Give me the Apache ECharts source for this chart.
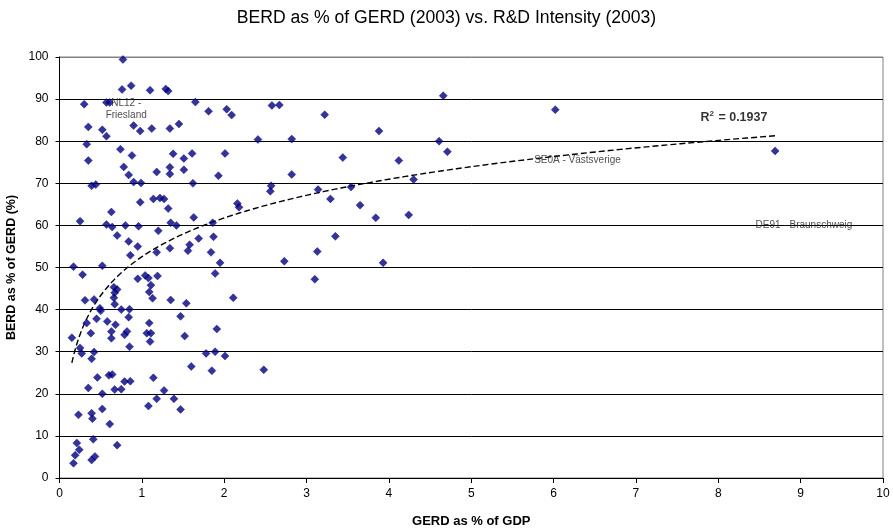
<!DOCTYPE html>
<html>
<head>
<meta charset="utf-8">
<script src="https://cdn.jsdelivr.net/npm/echarts@6/dist/echarts.min.js"></script>
<style>html,body{margin:0;padding:0;background:#fff}#c{width:893px;height:531px}</style>
</head>
<body>
<div id="c"></div>
<script>
// GERD as % of GDP (x) and BERD as % of GERD (y)
var gerdPctGdp = [
0.77,0.76,0.87,1.10,1.29,1.32,0.30,0.57,0.61,0.35,0.52,0.57,0.90,0.98,1.12,1.34,0.33,0.74,0.88,1.38,
0.35,0.78,0.84,1.18,1.34,1.34,0.39,0.44,0.90,0.99,0.98,1.14,1.22,1.27,1.32,0.63,0.25,0.57,0.64,0.80,
0.96,1.35,1.20,0.70,0.84,0.95,0.86,1.18,1.34,0.17,0.52,0.28,0.95,1.04,1.08,1.19,1.11,0.66,0.70,0.67,
1.09,1.13,0.66,1.35,0.31,0.42,0.67,0.49,0.50,0.75,0.85,0.84,0.45,0.33,0.58,0.68,1.09,0.38,0.63,0.82,
0.79,1.06,1.11,0.63,0.15,1.10,0.85,0.25,0.27,0.42,0.39,0.46,0.60,0.64,0.79,0.86,1.14,0.35,0.52,0.67,
0.75,1.27,1.18,1.39,1.08,0.23,0.39,0.40,0.52,0.61,0.21,0.41,0.70,0.24,0.19,0.17,0.39,0.43,1.65,1.81,
2.03,2.09,2.58,2.67,1.45,2.41,1.51,1.61,2.01,1.51,1.93,1.62,2.57,2.56,2.16,2.18,1.63,1.42,1.86,1.69,
1.87,1.58,1.56,1.84,1.95,1.89,1.54,2.11,1.47,1.91,1.52,1.78,1.89,2.01,1.60,1.85,2.48,1.47,4.66,3.22,
3.88,2.82,4.61,4.71,3.44,4.12,2.82,4.30,3.14,3.54,3.29,3.65,3.84,4.24,3.35,3.13,2.73,3.93,3.10,6.02,
8.69
];
var berdPctGerd = [
99.4,92.3,93.2,92.1,92.4,91.9,88.8,89.2,89.2,83.4,82.7,81.2,83.7,82.4,83.0,83.0,79.3,78.1,76.6,77.0,
75.4,73.9,72.0,72.7,73.8,72.2,69.4,69.7,70.3,70.1,65.5,66.3,66.5,66.3,64.0,63.2,61.0,60.2,59.6,60.0,
59.8,60.6,58.7,57.6,56.2,55.0,52.9,53.6,54.6,50.2,50.4,48.3,47.3,48.1,47.5,48.0,45.8,45.3,44.8,44.0,
44.2,42.7,42.8,42.3,42.2,42.4,41.3,40.3,39.7,40.0,40.1,38.2,37.8,36.8,37.2,36.4,36.8,34.4,34.8,34.8,
34.0,34.4,34.4,33.2,33.3,32.4,31.2,30.9,29.6,29.9,28.3,23.9,24.4,24.6,22.9,23.0,23.8,21.4,20.0,21.0,
21.1,20.8,18.8,18.8,17.1,15.0,15.4,14.1,16.4,12.8,8.3,9.2,7.8,6.7,5.4,3.5,4.3,5.1,89.3,87.1,
87.6,86.2,88.5,88.6,84.1,80.4,75.9,77.1,77.1,73.2,71.8,70.0,69.4,68.1,65.2,64.3,61.9,60.0,60.6,56.9,
57.3,55.4,54.0,53.6,51.1,48.6,41.5,42.8,38.4,35.4,33.7,29.6,30.0,29.0,26.5,25.5,25.7,16.3,90.8,86.3,
82.4,80.5,80.0,77.5,76.1,75.4,72.1,70.9,68.5,69.1,66.3,64.8,61.8,62.5,57.4,53.8,51.5,51.1,47.2,87.5,
77.7
];
// annotation texts (as in the reference) and where they sit in data units
var noteTexts = ['NL12 -\nFriesland', 'SE0A - Västsverige', 'DE91 - Braunschweig'];
var noteX = [0.81, 6.29, 9.04];
var noteY = [87.6, 75.5, 60.1];
var r2Text = '0.1937';
var r2X = 8.19, r2Y = 85.7;
var xTicks = [0,1,2,3,4,5,6,7,8,9,10];
var yTicks = [0,10,20,30,40,50,60,70,80,90,100];

var pts = gerdPctGdp.map(function(x,i){return [x, berdPctGerd[i]];});

// logarithmic least-squares trend fitted to the data
var n = pts.length, sl=0, sy=0, sll=0, sly=0;
pts.forEach(function(p){var l=Math.log(p[0]); sl+=l; sy+=p[1]; sll+=l*l; sly+=l*p[1];});
var a = (n*sly - sl*sy)/(n*sll - sl*sl), b = (sy - a*sl)/n;
var xmin = Math.min.apply(null, gerdPctGdp), xmax = Math.max.apply(null, gerdPctGdp);
var trend = [];
for (var k=0;k<=200;k++){var xv = xmin*Math.pow(xmax/xmin, k/200); trend.push([xv, a*Math.log(xv)+b]);}

var gridColors = yTicks.map(function(v){return v===100?'#808080':'#000';});

var FONT = 'Liberation Sans, Arial, sans-serif';
var chart = echarts.init(document.getElementById('c'));
chart.setOption({
  animation:false,
  backgroundColor:'#fff',
  title:{text:'BERD as % of GERD (2003) vs. R&D Intensity (2003)', left:'center', top:4,
    textStyle:{fontFamily:FONT, fontSize:17.6, fontWeight:'normal', color:'#000'}},
  grid:{left:59.5, right:10, top:57, bottom:53, show:true, borderColor:'#808080', borderWidth:1,
    containLabel:false, outerBoundsMode:'none'},
  xAxis:{type:'value', min:0, max:10, interval:1,
    name:'GERD as % of GDP', nameLocation:'middle', nameGap:37,
    nameTextStyle:{fontFamily:FONT, fontSize:13, fontWeight:'bold', color:'#000'},
    axisLine:{show:true, onZero:false, lineStyle:{color:'#000', width:1}},
    axisTick:{show:true, length:5, lineStyle:{color:'#000'}},
    axisLabel:{fontFamily:FONT, fontSize:12, color:'#000', margin:10, formatter:function(v){return xTicks.indexOf(v)>=0?String(v):'';}},
    splitLine:{show:false}},
  yAxis:{type:'value', min:0, max:100, interval:10,
    name:'BERD as % of GERD (%)', nameLocation:'middle', nameGap:41, nameRotate:90,
    nameTextStyle:{fontFamily:FONT, fontSize:12.5, fontWeight:'bold', color:'#000'},
    axisLine:{show:true, onZero:false, lineStyle:{color:'#000', width:1}},
    axisTick:{show:true, length:4, lineStyle:{color:'#000'}},
    axisLabel:{fontFamily:FONT, fontSize:12, color:'#000', margin:11, formatter:function(v){return yTicks.indexOf(v)>=0?String(v):'';}},
    splitLine:{show:true, lineStyle:{color:gridColors, width:1}}},
  series:[
    {type:'line', data:trend, showSymbol:false, symbol:'none', silent:true, z:3,
      lineStyle:{color:'#000', width:1.4, type:[6,3]}},
    {type:'scatter', data:pts, symbol:'diamond', symbolSize:8, z:4,
      itemStyle:{color:'#000080', borderColor:'#000080', borderWidth:0.5}},
    {type:'scatter', symbolSize:0, z:5, silent:true,
      data:noteTexts.map(function(t,i){return {name:t, value:[noteX[i], noteY[i]]};}),
      label:{show:true, position:'inside', formatter:'{b}', fontFamily:FONT, fontSize:10, color:'#222', align:'center', lineHeight:12}},
    {type:'scatter', symbolSize:0, z:5, silent:true,
      data:[{value:[r2X, r2Y]}],
      label:{show:true, position:'inside', formatter:'{b|R}{s|2}{b| = '+r2Text+'}',
        rich:{b:{fontFamily:FONT, fontSize:12.5, fontWeight:'bold', color:'#000', lineHeight:14, verticalAlign:'bottom'},
              s:{fontFamily:FONT, fontSize:8, fontWeight:'bold', color:'#000', lineHeight:14, verticalAlign:'top', padding:[0,1,6,0]}}}}
  ]
});
</script>
</body>
</html>
